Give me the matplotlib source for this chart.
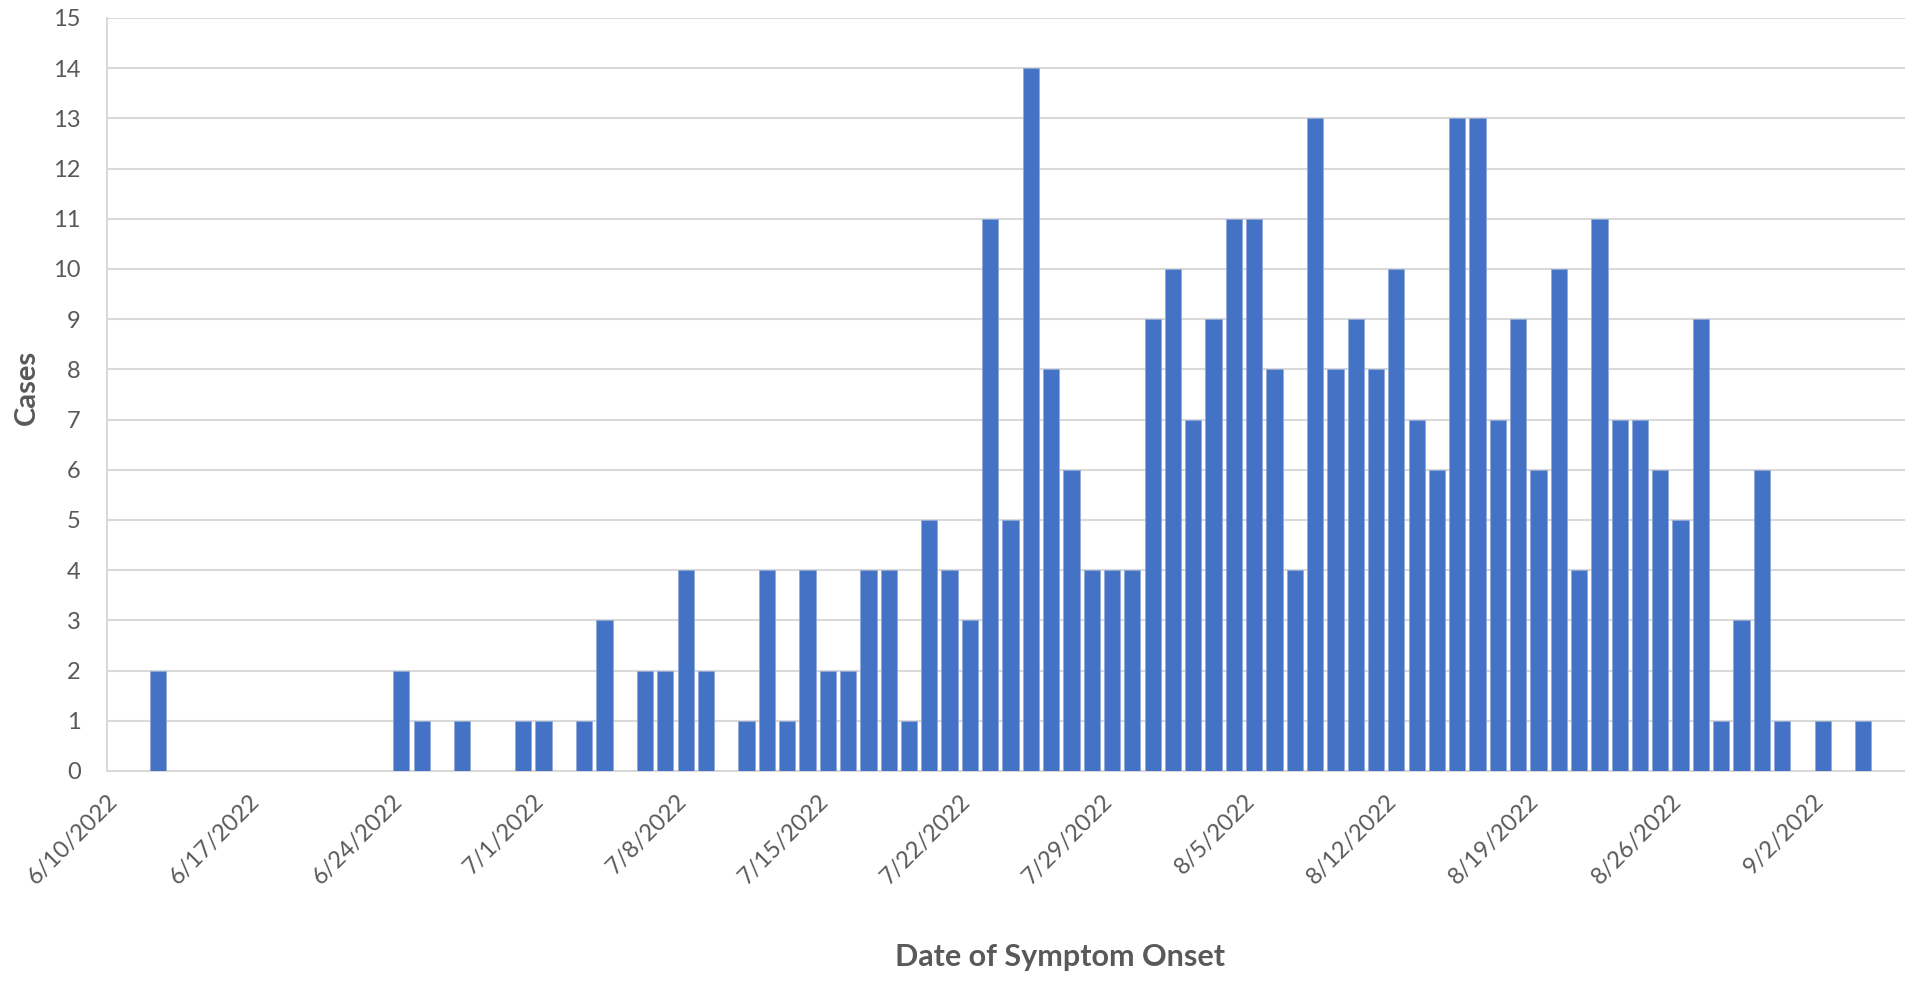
import numpy as np
import pandas as pd
import matplotlib
matplotlib.use("Agg")
import matplotlib.pyplot as plt

# daily case counts by date of symptom onset, 6/10/2022 .. 9/5/2022
start_date = "2022-06-10"
cases = [0, 0, 2, 0, 0, 0, 0, 0, 0, 0, 0, 0, 0, 0,
         2, 1, 0, 1, 0, 0, 1, 1, 0, 1, 3, 0, 2, 2,
         4, 2, 0, 1, 4, 1, 4, 2, 2, 4, 4, 1, 5, 4,
         3, 11, 5, 14, 8, 6, 4, 4, 4, 9, 10, 7, 9, 11,
         11, 8, 4, 13, 8, 9, 8, 10, 7, 6, 13, 13, 7, 9,
         6, 10, 4, 11, 7, 7, 6, 5, 9, 1, 3, 6, 1, 0,
         1, 0, 1, 0]
tick_labels = ["6/10/2022", "6/17/2022", "6/24/2022", "7/1/2022", "7/8/2022",
               "7/15/2022", "7/22/2022", "7/29/2022", "8/5/2022", "8/12/2022",
               "8/19/2022", "8/26/2022", "9/2/2022"]

dates = pd.date_range(start_date, periods=len(cases), freq="D")
day_idx = np.arange(len(dates))

plt.rcParams['font.family'] = ['Lato', 'DejaVu Sans']
text_grey = '#595959'
grid_grey = '#D9D9D9'

fig = plt.figure(figsize=(19.06, 9.82), dpi=100)
ax = fig.add_axes([0.0561, 0.2149, 0.9439, 0.7668])

ax.bar(day_idx + 0.5, cases, width=0.8, color='#4472C4',
       edgecolor='#8FA9DC', linewidth=0.5, zorder=3)

ax.set_xlim(0, 88.6)
ax.set_ylim(0, 15)
ax.set_yticks(range(0, 16))
ax.set_xticks(np.arange(0, len(tick_labels) * 7, 7))
ax.set_xticklabels(tick_labels, rotation=45, ha='right', va='top',
                   rotation_mode='anchor')
ax.tick_params(axis='both', length=0, labelsize=17, colors=text_grey)
ax.tick_params(axis='x', pad=14)
ax.tick_params(axis='y', pad=19)

ax.grid(axis='y', color=grid_grey, linewidth=1.5, zorder=0)
for side in ['top', 'right']:
    ax.spines[side].set_visible(False)
for side in ['left', 'bottom']:
    ax.spines[side].set_color(grid_grey)
    ax.spines[side].set_linewidth(1.5)

fig.text(0.0142, 0.605, 'Cases', fontsize=21, fontweight='bold', color=text_grey,
         rotation=90, ha='center', va='center')
fig.text(0.556, 0.0255, 'Date of Symptom Onset', fontsize=22, fontweight='bold',
         color=text_grey, ha='center', va='center')

fig.savefig('out.png', dpi=100)
